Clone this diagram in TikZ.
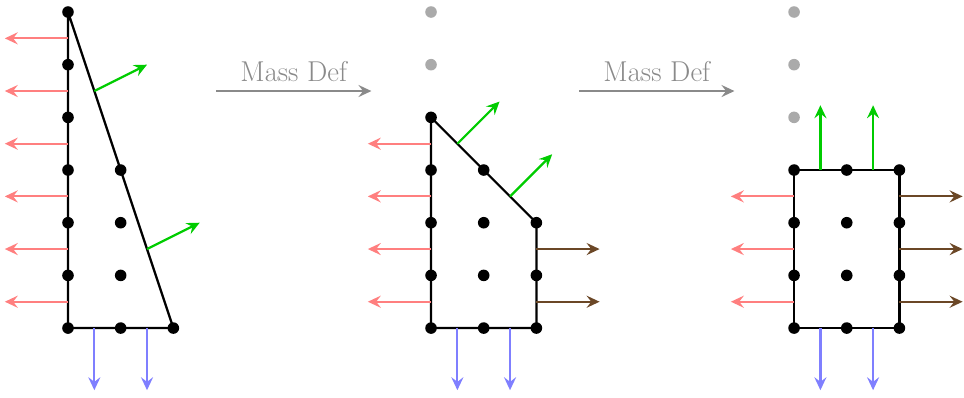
\documentclass[tikz,border=0pt]{standalone}
\usepackage{tikz}
\usetikzlibrary{positioning, arrows.meta, calc}
\usepackage{xcolor}
\definecolor{mdpull}{HTML}{FF7F7F}
\definecolor{mdload}{HTML}{7F7FFF}
\definecolor{mdflux}{HTML}{00CC00}
\definecolor{mdpush}{HTML}{6B4726}
\definecolor{mdghost}{HTML}{AAAAAA}
\definecolor{mdtext}{HTML}{8A8A8A}

\begin{document}
\begin{tikzpicture}[font=\fontsize{15.5}{18}\selectfont,
    dot/.style={circle, fill=black, inner sep=0pt, minimum size=0.22cm},
    ghost/.style={dot, fill=mdghost},
    edge/.style={line width=1.2pt, line join=round},
    force/.style={line width=1.2pt, -{Stealth[length=7pt, width=6.5pt, inset=2.5pt]}},
    stepto/.style={force, color=mdtext}]
  \useasboundingbox (-1.291,-1.31) rectangle (17.01,6.228);

  % first shape: the wedge
  \foreach \y in {0,...,6} \node[dot] (a0\y) at (0,\y) {};
  \foreach \y in {0,...,3} \node[dot] (a1\y) at (1,\y) {};
  \node[dot] (a20) at (2,0) {};
  \draw[edge] (a06.center) -- (a00.center) -- (a20.center) -- cycle;
  \foreach \i in {0,...,5} {
    \coordinate (aw\i) at (0,\i+0.5);
    \coordinate (awt\i) at (-1.2,\i+0.5);
    \draw[force, mdpull] (aw\i) -- (awt\i);
  }
  \foreach \i in {0,1} {
    \coordinate (as\i) at (\i+0.5,0);
    \coordinate (ast\i) at (\i+0.5,-1.18);
    \draw[force, mdload] (as\i) -- (ast\i);
  }
  \coordinate (an0) at (0.5,4.5);  \coordinate (ant0) at (1.5,5.0);
  \coordinate (an1) at (1.5,1.5);  \coordinate (ant1) at (2.5,2.0);
  \draw[force, mdflux] (an0) -- (ant0);
  \draw[force, mdflux] (an1) -- (ant1);

  \coordinate (m1s) at (2.81,4.5);
  \coordinate (m1e) at (5.76,4.5);
  \draw[stepto] (m1s) -- node[above=1pt, text=mdtext, name=md1] {Mass Def} (m1e);

  % second shape: cut corner
  \begin{scope}[xshift=6.892cm]
    \foreach \y in {0,...,4} \node[dot] (b0\y) at (0,\y) {};
    \foreach \y in {5,6} \node[ghost] (b0\y) at (0,\y) {};
    \foreach \y in {0,...,3} \node[dot] (b1\y) at (1,\y) {};
    \foreach \y in {0,...,2} \node[dot] (b2\y) at (2,\y) {};
    \draw[edge] (b04.center) -- (b00.center) -- (b20.center) -- (b22.center) -- cycle;
    \foreach \i in {0,...,3} {
      \coordinate (bw\i) at (0,\i+0.5);
      \coordinate (bwt\i) at (-1.2,\i+0.5);
      \draw[force, mdpull] (bw\i) -- (bwt\i);
    }
    \foreach \i in {0,1} {
      \coordinate (be\i) at (2,\i+0.5);
      \coordinate (bet\i) at (3.2,\i+0.5);
      \draw[force, mdpush] (be\i) -- (bet\i);
      \coordinate (bs\i) at (\i+0.5,0);
      \coordinate (bst\i) at (\i+0.5,-1.18);
      \draw[force, mdload] (bs\i) -- (bst\i);
      \coordinate (bn\i) at (\i+0.5,3.5-\i);
      \coordinate (bnt\i) at (\i+1.3,4.3-\i);
      \draw[force, mdflux] (bn\i) -- (bnt\i);
    }

    \coordinate (m2s) at (2.81,4.5);
    \coordinate (m2e) at (5.76,4.5);
    \draw[stepto] (m2s) -- node[above=1pt, text=mdtext, name=md2] {Mass Def} (m2e);
  \end{scope}

  % third shape: the block
  \begin{scope}[xshift=13.784cm]
    \foreach \y in {0,...,3} \node[dot] (c0\y) at (0,\y) {};
    \foreach \y in {4,5,6} \node[ghost] (c0\y) at (0,\y) {};
    \foreach \y in {0,...,3} \node[dot] (c1\y) at (1,\y) {};
    \foreach \y in {0,...,3} \node[dot] (c2\y) at (2,\y) {};
    \draw[edge] (c03.center) -- (c00.center) -- (c20.center) -- (c23.center) -- cycle;
    \foreach \i in {0,...,2} {
      \coordinate (cw\i) at (0,\i+0.5);
      \coordinate (cwt\i) at (-1.2,\i+0.5);
      \draw[force, mdpull] (cw\i) -- (cwt\i);
      \coordinate (ce\i) at (2,\i+0.5);
      \coordinate (cet\i) at (3.2,\i+0.5);
      \draw[force, mdpush] (ce\i) -- (cet\i);
    }
    \foreach \i in {0,1} {
      \coordinate (cs\i) at (\i+0.5,0);
      \coordinate (cst\i) at (\i+0.5,-1.18);
      \draw[force, mdload] (cs\i) -- (cst\i);
      \coordinate (cn\i) at (\i+0.5,3);
      \coordinate (cnt\i) at (\i+0.5,4.23);
      \draw[force, mdflux] (cn\i) -- (cnt\i);
    }
  \end{scope}
\end{tikzpicture}
\end{document}
